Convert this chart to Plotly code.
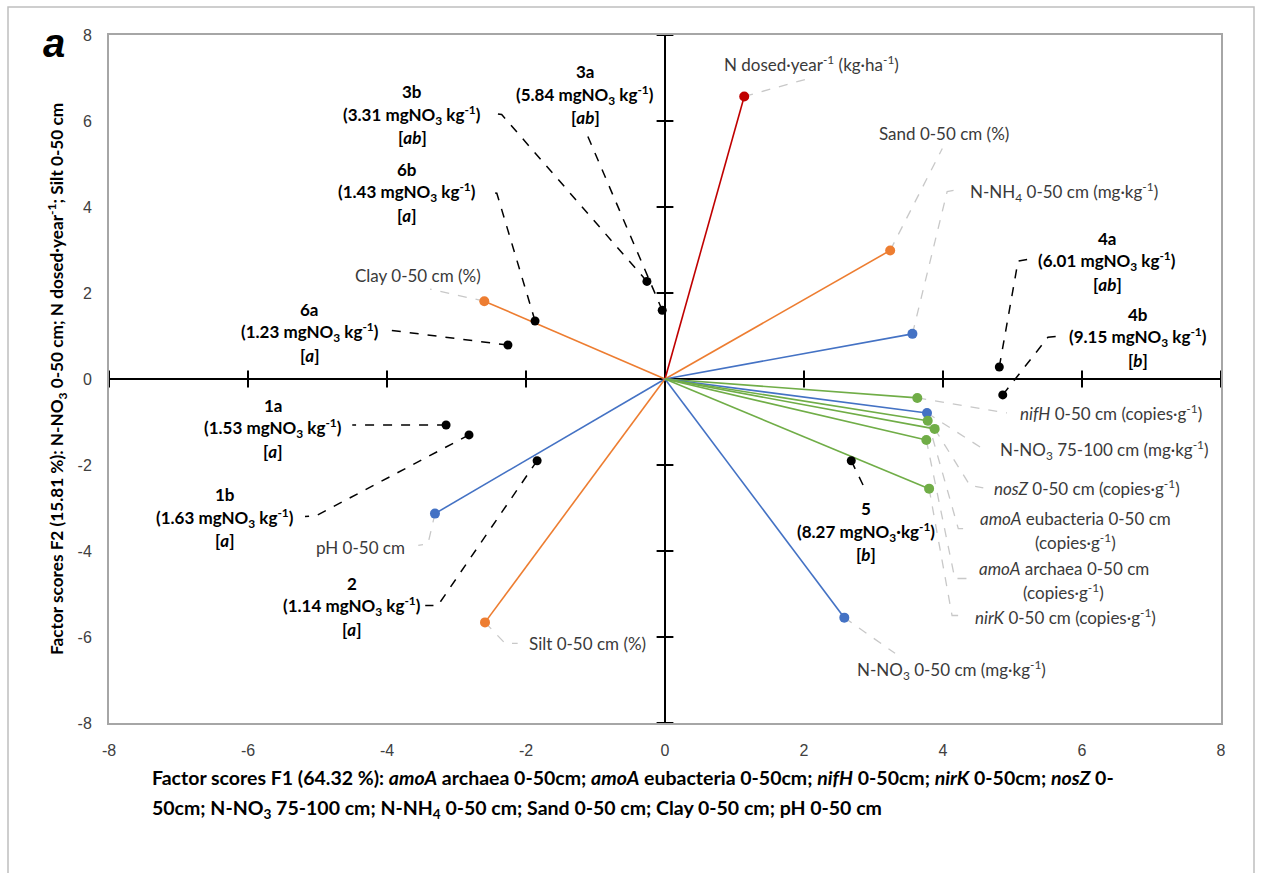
import plotly.graph_objects as go

# ---- observations: factor scores, mean nitrate and significance group ----
obs_ids = ["1a", "1b", "2", "3a", "3b", "4a", "4b", "5", "6a", "6b"]
obs_no3 = [1.53, 1.63, 1.14, 5.84, 3.31, 6.01, 9.15, 8.27, 1.23, 1.43]
obs_group = ["a", "a", "a", "ab", "ab", "ab", "b", "b", "a", "a"]
obs_f1 = [-3.15, -2.82, -1.84, -0.04, -0.26, 4.81, 4.86, 2.68, -2.26, -1.87]
obs_f2 = [-1.07, -1.30, -1.90, 1.60, 2.27, 0.28, -0.37, -1.90, 0.79, 1.35]

# ---- variables: loadings on F1 / F2 ----
var_names = ["N dosed", "Sand", "N-NH4", "Clay", "pH", "Silt", "N-NO3 0-50",
             "nifH", "N-NO3 75-100", "nosZ", "amoA eubacteria", "amoA archaea", "nirK"]
var_f1 = [1.14, 3.24, 3.56, -2.60, -3.31, -2.59, 2.58,
          3.63, 3.77, 3.88, 3.78, 3.76, 3.80]
var_f2 = [6.57, 2.99, 1.05, 1.81, -3.13, -5.66, -5.55,
          -0.44, -0.79, -1.16, -0.97, -1.42, -2.55]
var_kind = ["dose", "texture", "chem", "texture", "chem", "texture", "chem",
            "gene", "chem", "gene", "gene", "gene", "gene"]

tick_vals = [-8, -6, -4, -2, 0, 2, 4, 6, 8]
tick_text = ["-8", "-6", "-4", "-2", "0", "2", "4", "6", "8"]

# ---- styling ----
KIND_COLOR = {"dose": "#C00000", "texture": "#ED7D31", "chem": "#4472C4", "gene": "#70AD47"}
LABEL_FONT = "Lato, 'Open Sans', sans-serif"
TICK_FONT = "'Liberation Sans', Arial, sans-serif"
W, H = 1261, 873
M_L, M_R, M_T, M_B = 109, 40, 35, 150
PLOT_W = W - M_L - M_R
PLOT_H = H - M_T - M_B
UNIT_PER_PX = 16.0 / PLOT_H

# label placement for the observations: centre x, middle-line y, leader path to the point
obs_label_layout = {
    "1a": (-5.64, -1.14, [(-4.50, -1.07)]),
    "1b": (-6.33, -3.23, [(-5.18, -3.20), (-5.02, -3.18)]),
    "2": (-4.50, -5.29, [(-3.45, -5.27), (-3.27, -5.27)]),
    "3a": (-1.15, 6.61, [(-1.12, 5.68)]),
    "3b": (-3.64, 6.15, [(-2.45, 6.17), (-2.35, 6.15)]),
    "4a": (6.36, 2.74, [(5.21, 2.78), (5.08, 2.74)]),
    "4b": (6.81, 0.97, [(5.68, 1.00), (5.51, 0.97)]),
    "5": (2.89, -3.55, [(2.89, -2.60)]),
    "6a": (-5.11, 1.09, [(-3.99, 1.14)]),
    "6b": (-3.71, 4.34, [(-2.56, 4.36), (-2.42, 4.32)]),
}

# label placement for the variables: text lines, x, first-line y, anchor, leader path
var_label_layout = {
    "N dosed": (["N dosed·year<sup>-1</sup> (kg·ha<sup>-1</sup>)"], 0.82, 7.33, "left", [(2.09, 7.00)]),
    "Sand": (["Sand 0-50 cm (%)"], 3.05, 5.71, "left", [(3.99, 5.36)]),
    "N-NH4": (["N-NH<sub>4</sub> 0-50 cm (mg·kg<sup>-1</sup>)"], 4.36, 4.36, "left",
              [(4.06, 4.36), (4.24, 4.41)]),
    "Clay": (["Clay 0-50 cm (%)"], -4.49, 2.41, "left", [(-3.38, 2.09)]),
    "pH": (["pH 0-50 cm"], -3.71, -3.92, "right", [(-3.41, -3.83), (-3.55, -3.87)]),
    "Silt": (["Silt 0-50 cm (%)"], -1.99, -6.15, "left", [(-2.30, -6.15), (-2.12, -6.15)]),
    "N-NO3 0-50": (["N-NO<sub>3</sub> 0-50 cm (mg·kg<sup>-1</sup>)"], 2.73, -6.77, "left",
                   [(3.31, -6.38)]),
    "nifH": (["<i>nifH</i> 0-50 cm (copies·g<sup>-1</sup>)"], 5.08, -0.79, "left", [(4.92, -0.79)]),
    "N-NO3 75-100": (["N-NO<sub>3</sub> 75-100 cm (mg·kg<sup>-1</sup>)"], 4.79, -1.65, "left",
                     [(4.60, -1.65)]),
    "nosZ": (["<i>nosZ</i> 0-50 cm (copies·g<sup>-1</sup>)"], 4.71, -2.53, "left",
             [(4.39, -2.48), (4.58, -2.53)]),
    "amoA eubacteria": (["<i>amoA</i> eubacteria 0-50 cm", "(copies·g<sup>-1</sup>)"], 5.91, -3.25,
                        "center", [(4.22, -3.48), (4.36, -3.48)]),
    "amoA archaea": (["<i>amoA</i> archaea 0-50 cm", "(copies·g<sup>-1</sup>)"], 5.74, -4.41,
                     "center", [(4.17, -4.64), (4.36, -4.64)]),
    "nirK": (["<i>nirK</i> 0-50 cm (copies·g<sup>-1</sup>)"], 4.43, -5.52, "left",
             [(4.13, -5.50), (4.27, -5.50)]),
}

fig = go.Figure()
annotations = []


def add_text_lines(lines, x, y_first, xanchor, spacing_px, size, color, bold=False):
    for i, line in enumerate(lines):
        txt = f"<b>{line}</b>" if bold else line
        annotations.append(dict(
            x=x, y=y_first - i * spacing_px * UNIT_PER_PX, xref="x", yref="y",
            text=txt, showarrow=False, xanchor=xanchor, yanchor="middle",
            font=dict(family=LABEL_FONT, size=size, color=color)))


def paper_x(px):
    return (px - M_L) / PLOT_W


def paper_y(py):
    return (H - M_B - py) / PLOT_H


# gray leader lines for variable labels
for name, f1, f2 in zip(var_names, var_f1, var_f2):
    lines, lx, ly, anchor, path = var_label_layout[name]
    xs = [f1] + [p[0] for p in path]
    ys = [f2] + [p[1] for p in path]
    fig.add_trace(go.Scatter(x=xs, y=ys, mode="lines", hoverinfo="skip",
                             line=dict(color="#C8C8C8", width=1.3, dash="dash")))
    add_text_lines(lines, lx, ly, anchor, 23, 17, "#3A3A3A")

# black leader lines for observation labels
for oid, f1, f2, no3, grp in zip(obs_ids, obs_f1, obs_f2, obs_no3, obs_group):
    cx, cy, path = obs_label_layout[oid]
    xs = [f1] + [p[0] for p in path[::-1]]
    ys = [f2] + [p[1] for p in path[::-1]]
    fig.add_trace(go.Scatter(x=xs, y=ys, mode="lines", hoverinfo="skip",
                             line=dict(color="#000000", width=1.5, dash="dash")))
    unit = "mgNO<sub>3</sub>·kg<sup>-1</sup>" if oid == "5" else "mgNO<sub>3</sub> kg<sup>-1</sup>"
    lines = [oid, f"({no3:.2f} {unit})", f"[<i>{grp}</i>]"]
    add_text_lines(lines, cx, cy + 23 * UNIT_PER_PX, "center", 23, 17, "#000000", bold=True)

# loading vectors from the origin
for name, f1, f2, kind in zip(var_names, var_f1, var_f2, var_kind):
    c = KIND_COLOR[kind]
    fig.add_trace(go.Scatter(x=[0, f1], y=[0, f2], mode="lines", hoverinfo="skip",
                             line=dict(color=c, width=1.6)))
    fig.add_trace(go.Scatter(x=[f1], y=[f2], mode="markers", hoverinfo="skip",
                             marker=dict(color=c, size=10, line=dict(width=0))))

# observation points
fig.add_trace(go.Scatter(x=obs_f1, y=obs_f2, mode="markers", hoverinfo="skip",
                         marker=dict(color="#000000", size=9)))

# tick marks crossing the zero axes
inner = [v for v in tick_vals if v != 0]
fig.add_trace(go.Scatter(x=[0] * len(inner), y=inner, mode="markers", hoverinfo="skip",
                         marker=dict(symbol="line-ew", size=12,
                                     line=dict(color="#000000", width=2))))
fig.add_trace(go.Scatter(x=inner, y=[0] * len(inner), mode="markers", hoverinfo="skip",
                         marker=dict(symbol="line-ns", size=12,
                                     line=dict(color="#000000", width=2))))

# panel letter
annotations.append(dict(xref="paper", yref="paper", x=paper_x(54), y=paper_y(43),
                        xanchor="center", yanchor="middle", text="<b><i>a</i></b>",
                        showarrow=False, font=dict(family=TICK_FONT, size=40, color="#000000")))

# axis titles
annotations.append(dict(
    xref="paper", yref="paper", x=paper_x(57), y=paper_y(379),
    textangle=-90, showarrow=False, xanchor="center", yanchor="middle",
    text="<b>Factor scores F2 (15.81 %): N-NO<sub>3</sub> 0-50 cm; N dosed·year<sup>-1</sup>; "
         "Silt 0-50 cm</b>",
    font=dict(family=LABEL_FONT, size=17.2, color="#000000")))
x_title_lines = [
    "<b>Factor scores F1 (64.32 %): <i>amoA</i> archaea 0-50cm; <i>amoA</i> eubacteria 0-50cm; "
    "<i>nifH</i> 0-50cm; <i>nirK</i> 0-50cm; <i>nosZ</i> 0-</b>",
    "<b>50cm; N-NO<sub>3</sub> 75-100 cm; N-NH<sub>4</sub> 0-50 cm; Sand 0-50 cm; Clay 0-50 cm; "
    "pH 0-50 cm</b>",
]
for line, ypx in zip(x_title_lines, [777, 809]):
    annotations.append(dict(
        xref="paper", yref="paper", x=paper_x(150), y=paper_y(ypx),
        showarrow=False, xanchor="left", yanchor="middle",
        text=line, font=dict(family=LABEL_FONT, size=19.5, color="#000000")))

axis_common = dict(
    range=[-8, 8], tickvals=tick_vals, ticktext=tick_text, showgrid=False,
    zeroline=True, zerolinecolor="#000000", zerolinewidth=2,
    showline=True, mirror=True, linecolor="#A6A6A6", linewidth=2,
    ticks="outside", ticklen=12, tickcolor="rgba(0,0,0,0)",
    tickfont=dict(family=TICK_FONT, size=16, color="#404040"),
)

fig.update_layout(
    width=W, height=H,
    margin=dict(l=M_L, r=M_R, t=M_T, b=M_B),
    paper_bgcolor="white", plot_bgcolor="white",
    showlegend=False,
    xaxis=dict(**axis_common),
    yaxis=dict(**axis_common),
    annotations=annotations,
    shapes=[dict(type="rect", xref="paper", yref="paper", layer="below",
                 x0=paper_x(8), x1=paper_x(1254), y0=paper_y(900), y1=paper_y(7),
                 line=dict(color="#BFBFBF", width=1.5))],
)

fig.write_html("out.html")
